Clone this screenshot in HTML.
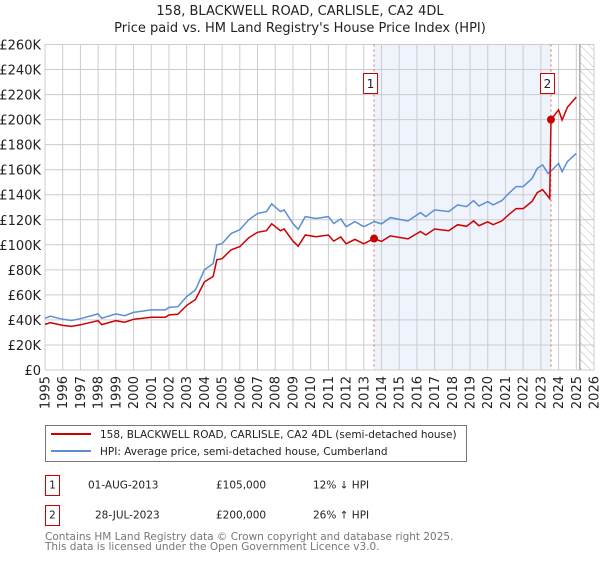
<!DOCTYPE html>
<html><head><meta charset="utf-8"><style>
body{margin:0;background:#fff;font-family:"Liberation Sans","DejaVu Sans",sans-serif;}
svg text{font-family:"DejaVu Sans","Liberation Sans",sans-serif;}
</style></head><body>
<svg id="chart" width="600" height="560" xmlns="http://www.w3.org/2000/svg">
<defs><pattern id="hatch" patternUnits="userSpaceOnUse" width="6" height="6" patternTransform="rotate(-45)"><line x1="0" y1="0" x2="0" y2="6" stroke="#bbb" stroke-width="1"/></pattern></defs>
<text x="300" y="15" text-anchor="middle" font-size="13" fill="#222">158, BLACKWELL ROAD, CARLISLE, CA2 4DL</text>
<text x="300" y="32" text-anchor="middle" font-size="13" fill="#222">Price paid vs. HM Land Registry's House Price Index (HPI)</text>
<g id="plot"></g>
<g>
<rect x="45.5" y="425.5" width="421" height="36" fill="#fff" stroke="#777"/>
<line x1="51" y1="434" x2="91" y2="434" stroke="#cc0000" stroke-width="2"/>
<text x="100" y="438" font-size="10.5" fill="#222">158, BLACKWELL ROAD, CARLISLE, CA2 4DL (semi-detached house)</text>
<line x1="51" y1="451" x2="91" y2="451" stroke="#5b8fd4" stroke-width="2"/>
<text x="100" y="455" font-size="10.5" fill="#222">HPI: Average price, semi-detached house, Cumberland</text>
</g>
<g font-size="10.5" fill="#222">
<rect x="45.5" y="475.5" width="14" height="20" fill="#fff" stroke="#cc0000"/>
<text x="52.5" y="488.5" text-anchor="middle">1</text>
<text x="88" y="488.5">01-AUG-2013</text><text x="216" y="488.5">£105,000</text><text x="313" y="488.5">12% ↓ HPI</text>
<rect x="45.5" y="505.5" width="14" height="20" fill="#fff" stroke="#cc0000"/>
<text x="52.5" y="518.5" text-anchor="middle">2</text>
<text x="95" y="518.5">28-JUL-2023</text><text x="216" y="518.5">£200,000</text><text x="313" y="518.5">26% ↑ HPI</text>
</g>
<text x="45" y="540" font-size="10.5" fill="#777">Contains HM Land Registry data © Crown copyright and database right 2025.</text>
<text x="45" y="550" font-size="10.5" fill="#777">This data is licensed under the Open Government Licence v3.0.</text>
</svg>
<script>
const years=[1995,1995.3,1996,1996.5,1997,1998,1998.2,1999,1999.5,2000,2001,2001.8,2002,2002.5,2003,2003.5,2004,2004.5,2004.7,2005,2005.5,2006,2006.5,2007,2007.5,2007.8,2008.3,2008.5,2009,2009.3,2009.7,2010.3,2011,2011.3,2011.7,2012,2012.5,2013,2013.6,2014,2014.5,2015.5,2016.2,2016.5,2017,2017.8,2018.3,2018.8,2019.2,2019.5,2020,2020.3,2020.8,2021.2,2021.6,2022,2022.5,2022.8,2023.1,2023.4,2023.6,2024,2024.2,2024.5,2025];
const hpiValues=[41.3,43,40.5,39.5,41,44.8,41.3,44.8,43.4,46,48,48,50,50.6,58.6,64,80,85,100,101,109,112,120,125,126.5,132.7,126.5,128,117,112.4,122.5,121,122.5,117,120.7,114.5,118.5,114.5,118.5,116.7,121.7,119,125.7,122.5,127.9,126.5,131.9,130.5,135.3,131,134.5,131.9,135.3,141.2,146.5,146.5,153,161,163.8,157,159.3,165,158.5,166.5,173];
const redYears=[1995,1995.3,1996,1996.5,1997,1998,1998.2,1999,1999.5,2000,2001,2001.8,2002,2002.5,2003,2003.5,2004,2004.5,2004.7,2005,2005.5,2006,2006.5,2007,2007.5,2007.8,2008.3,2008.5,2009,2009.3,2009.7,2010.3,2011,2011.3,2011.7,2012,2012.5,2013,2013.58,2014,2014.5,2015.5,2016.2,2016.5,2017,2017.8,2018.3,2018.8,2019.2,2019.5,2020,2020.3,2020.8,2021.2,2021.6,2022,2022.5,2022.8,2023.1,2023.5,2023.57,2024,2024.2,2024.5,2025];
const redValues=[36.4,37.8,35.6,34.8,36.1,39.4,36.3,39.4,38.2,40.5,42.2,42.2,44,44.5,51.6,56.3,70.4,74.8,88,88.9,95.9,98.6,105.6,110,111.3,116.8,111.3,112.6,103,98.9,107.8,106.5,107.8,103,106.2,100.8,104.3,100.8,105,102.7,107.1,104.7,110.6,107.8,112.6,111.3,116.1,114.8,119.1,115.3,118.4,116.1,119.1,124.3,128.9,128.9,134.6,141.7,144.1,137,200,207.8,199.7,209.8,218];
const sales=[{n:'1',year:2013.58,value:105},{n:'2',year:2023.57,value:200}];
const yTicks=[0,20,40,60,80,100,120,140,160,180,200,220,240,260];
const xTicks=[];for(let y=1995;y<=2026;y++)xTicks.push(y);
const X0=45,X1=594,Y0=370,Y1=44.5;
const xs=y=>X0+(y-1995)/31*(X1-X0);
const ys=v=>Y0-v/260*(Y0-Y1);
const NS='http://www.w3.org/2000/svg';
const g=document.getElementById('plot');
function mk(t,a,p){const e=document.createElementNS(NS,t);for(const k in a)e.setAttribute(k,a[k]);(p||g).appendChild(e);return e;}
let r=mk('rect',{x:xs(sales[0].year),y:Y1,width:xs(sales[1].year)-xs(sales[0].year),height:Y0-Y1,fill:'#eef3fc'});


r=mk('rect',{x:xs(2025.2),y:Y1,width:X1-xs(2025.2),height:Y0-Y1,fill:'url(#hatch)'});


yTicks.forEach(v=>{
 const l=mk('line',{x1:X0,x2:X1,y1:ys(v),y2:ys(v),stroke:'#cccccc','stroke-width':1});
 
 
 const t=mk('text',{x:X0-4,y:ys(v)+5,'text-anchor':'end','font-size':13,fill:'#222'});
 
 
 t.textContent=v===0?'£0':'£'+v+'K';
});
xTicks.forEach(y=>{
 const l=mk('line',{x1:xs(y),x2:xs(y),y1:Y1,y2:Y0,stroke:'#cccccc','stroke-width':1});
 
 
 const t=mk('text',{x:0,y:0,'text-anchor':'end','font-size':13,fill:'#222',transform:`translate(${xs(y)+4.5},376) rotate(-90)`});
 
 
 t.textContent=y;
});
let vl=mk('line',{x1:xs(2025.2),x2:xs(2025.2),y1:Y1,y2:Y0,stroke:'#aaa','stroke-width':1.5});


sales.forEach(s=>{
 const l=mk('line',{x1:xs(s.year),x2:xs(s.year),y1:Y1,y2:Y0,stroke:'#e06666','stroke-width':1,'stroke-dasharray':'2,3'});
 
 
});
function path(xa,va){return xa.map((y,i)=>(i?'L':'M')+xs(y).toFixed(1)+','+ys(va[i]).toFixed(1)).join('');}
let p=mk('path',{d:path(years,hpiValues),fill:'none',stroke:'#5b8fd4','stroke-width':1.5});


p=mk('path',{d:path(redYears,redValues),fill:'none',stroke:'#cc0000','stroke-width':1.5});


sales.forEach(s=>{
 const c=mk('circle',{cx:xs(s.year),cy:ys(s.value),r:4,fill:'#cc0000'});
 
 
 const b=mk('rect',{x:xs(s.year)-10.5,y:73.5,width:14,height:20,fill:'#fff',stroke:'#cc0000'});
 
 
 const t=mk('text',{x:xs(s.year)-3.5,y:88,'text-anchor':'middle','font-size':12,fill:'#222'});
 
 
 t.textContent=s.n;
});
</script>
</body></html>
